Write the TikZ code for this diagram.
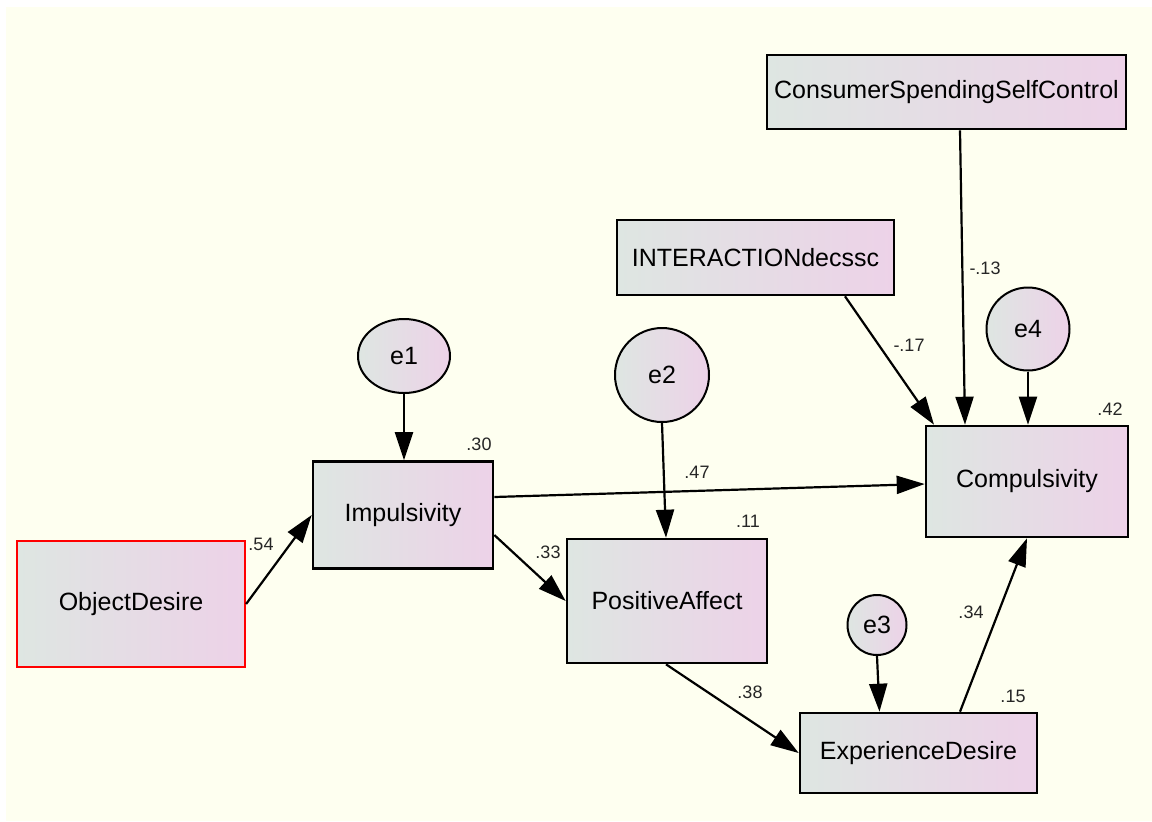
\documentclass[tikz,border=0pt]{standalone}
\usepackage{fontspec}
\setmainfont{Liberation Sans}
\usetikzlibrary{arrows.meta,calc,shapes.geometric}
\definecolor{paper}{RGB}{254,255,240}
\definecolor{shadeL}{RGB}{222,230,226}
\definecolor{shadeR}{RGB}{237,210,232}
\begin{document}
\begin{tikzpicture}[x=0.5pt,y=-0.5pt,
  var/.style={draw=black, line width=1.3pt, left color=shadeL, right color=shadeR,
    font=\fontsize{12.5}{14}\selectfont, inner sep=0pt, rectangle},
  err/.style={var, ellipse, line width=1pt},
  exo/.style={var, draw=red, line width=1.1pt},
  path/.style={-{Triangle[length=14pt,width=9pt]}, line width=1.1pt},
  coef/.style={font=\fontsize{9}{10}\selectfont, inner sep=0pt, text=black!85}]

% canvas
\useasboundingbox (0,0) rectangle (1152,821);
\fill[paper] (6,7) rectangle (1152,821);

% observed variables
\node[exo, minimum width=114pt, minimum height=63pt] (od) at (131,604) {ObjectDesire};
\node[var, minimum width=90pt, minimum height=53.5pt] (imp) at (403,515) {Impulsivity};
\node[var, minimum width=100pt, minimum height=62pt] (pa) at (667,601) {PositiveAffect};
\node[var, minimum width=138.5pt, minimum height=37.5pt] (int) at (755.5,257.5) {INTERACTIONdecssc};
\node[var, minimum width=179.5pt, minimum height=37pt] (cssc) at (946.5,92) {ConsumerSpendingSelfControl};
\node[var, minimum width=101pt, minimum height=55.5pt] (comp) at (1027,481.5) {Compulsivity};
\node[var, minimum width=118.5pt, minimum height=40pt] (ed) at (918.5,753) {ExperienceDesire};

% error terms
\node[err, minimum width=46pt, minimum height=37pt] (e1) at (404,356) {e1};
\node[err, minimum width=47pt, minimum height=47pt] (e2) at (662,375) {e2};
\node[err, minimum width=29.5pt, minimum height=30pt] (e3) at (877,625) {e3};
\node[err, minimum width=41.5pt, minimum height=41.5pt] (e4) at (1028,329) {e4};

% regression paths
\draw[path] (od.east) -- (imp.west);
\draw[path] (e1.south) -- (e1.south |- imp.north);
\draw[path] ($(imp.east)+(0,-18)$) -- ($(comp.west)+(0,2.5)$);
\draw[path] ($(imp.east)+(0,20)$) -- (pa.west);
\draw[path] (e2.south) -- ($(pa.north)+(-1,0)$);
\draw[path] ($(pa.south)+(-1,0)$) -- (ed.west);
\draw[path] (e3.south) -- ($(ed.north)+(-39,0)$);
\draw[path] ($(ed.north)+(41.5,0)$) -- (comp.south);
\draw[path] ($(int.south)+(89.5,0)$) -- ($(comp.north)+(-93,0)$);
\draw[path] ($(cssc.south)+(13.5,0)$) -- ($(comp.north)+(-62,0)$);
\draw[path] (e4.south) -- (e4.south |- comp.north);

% coefficients and squared multiple correlations
\node[coef] (c54) at (261,544) {.54};
\node[coef] (c30) at (479,444) {.30};
\node[coef] (c47) at (697,472) {.47};
\node[coef] (c33) at (548,552) {.33};
\node[coef] (c11) at (748,521) {.11};
\node[coef] (c38) at (750,692) {.38};
\node[coef] (c15) at (1013,696) {.15};
\node[coef] (c34) at (971,612) {.34};
\node[coef] (c17) at (909,345) {-.17};
\node[coef] (c13) at (985,268) {-.13};
\node[coef] (c42) at (1110,409) {.42};
\end{tikzpicture}
\end{document}
